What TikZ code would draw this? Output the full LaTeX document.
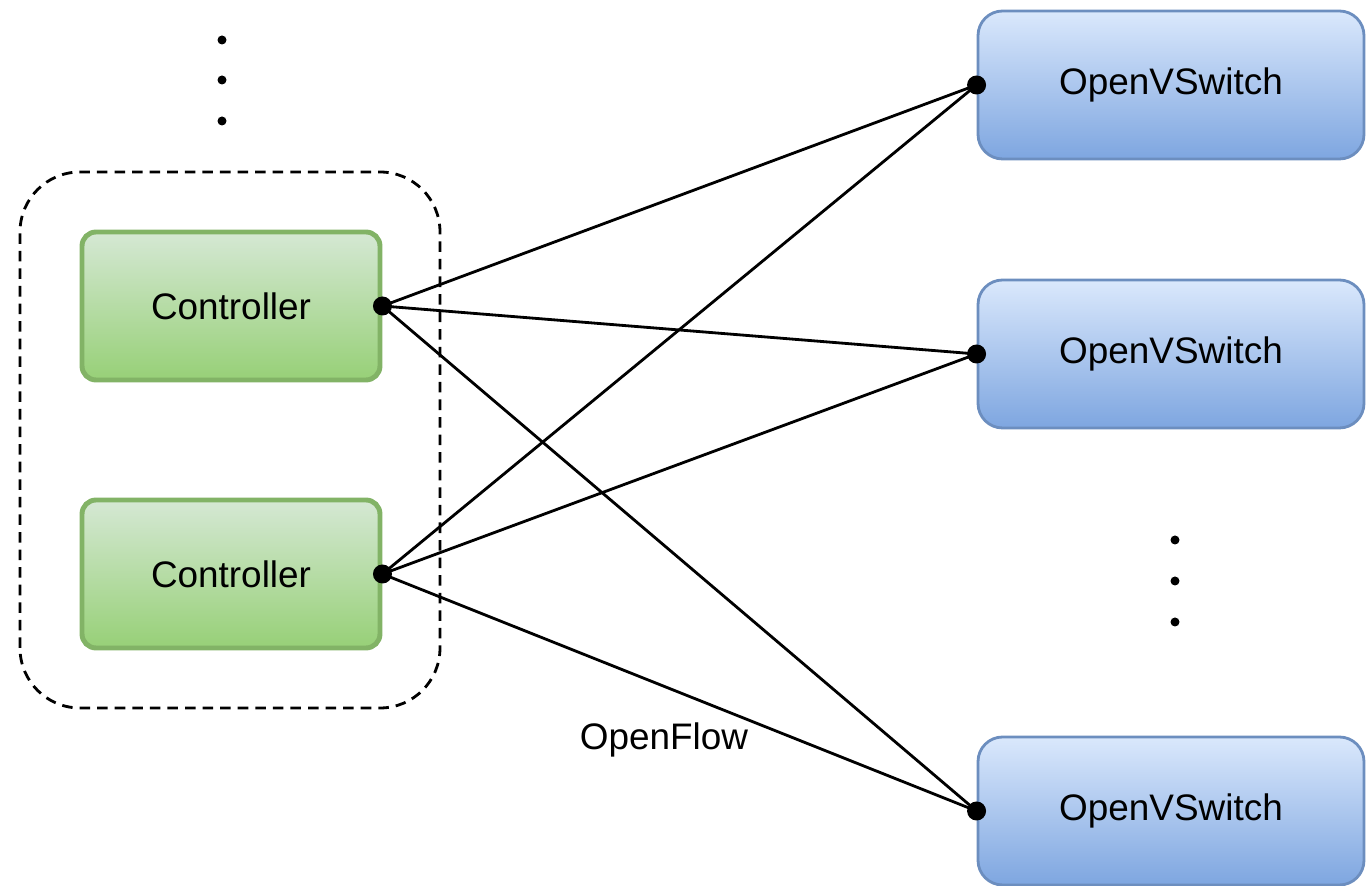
\documentclass[tikz,border=0pt]{standalone}
\usepackage{fontspec}
\setmainfont{Liberation Sans}
\usetikzlibrary{positioning}

\definecolor{ctrlTop}{HTML}{D5E8D4}
\definecolor{ctrlBottom}{HTML}{97D077}
\definecolor{ctrlLine}{HTML}{82B366}
\definecolor{switchTop}{HTML}{DAE8FC}
\definecolor{switchBottom}{HTML}{7EA6E0}
\definecolor{switchLine}{HTML}{6C8EBF}

\begin{document}
\begin{tikzpicture}
[ctrlDecorate/.style={shape=rectangle,rounded corners=4pt,draw=ctrlLine,line width=1.4pt,
   top color=ctrlTop,bottom color=ctrlBottom,minimum width=2.98cm,minimum height=1.48cm},%
  switchDecorate/.style={shape=rectangle,rounded corners=7pt,draw=switchLine,line width=0.8pt,
   top color=switchTop,bottom color=switchBottom,minimum width=3.86cm,minimum height=1.48cm},%
  portDecorate/.style={circle,fill=black,inner sep=0pt,minimum size=0.19cm},%
  lineDecorate/.style={thick}]
\useasboundingbox (0,0) rectangle (13.67,8.86);
\fontsize{10.5pt}{12pt}\selectfont
%% controller group
\draw[dashed,dash pattern=on 3pt off 2pt,thick,rounded corners=0.6cm] (0.20,1.78) rectangle (4.40,7.14);
%% nodes or vertices
\foreach \nodename/\y in {c1/5.80, c2/3.12}
{
  \node (\nodename) at (2.31,\y) [ctrlDecorate] {Controller};
}
\foreach \nodename/\y in {s1/8.01, s2/5.32, s3/0.75}
{
  \node (\nodename) at (11.71,\y) [switchDecorate] {OpenVSwitch};
}
%% ports
\foreach \nodename in {c1, c2}
{
  \node (\nodename p) at (\nodename.east) [portDecorate] {};
}
\foreach \nodename in {s1, s2, s3}
{
  \node (\nodename p) at (\nodename.west) [portDecorate] {};
}
%% edges or lines
\path
\foreach \startnode/\endnode in {c1/s1, c1/s2, c1/s3, c2/s1, c2/s2, c2/s3}
{
  (\startnode p.center) edge[lineDecorate] (\endnode p.center)
};
%% more of them
\foreach \y in {8.46, 8.06, 7.65}
{
  \fill (2.22,\y) circle (0.045);
}
\foreach \y in {3.46, 3.05, 2.64}
{
  \fill (11.75,\y) circle (0.045);
}
\node (openflow) at (6.64,1.46) {OpenFlow};
\end{tikzpicture}
\end{document}
